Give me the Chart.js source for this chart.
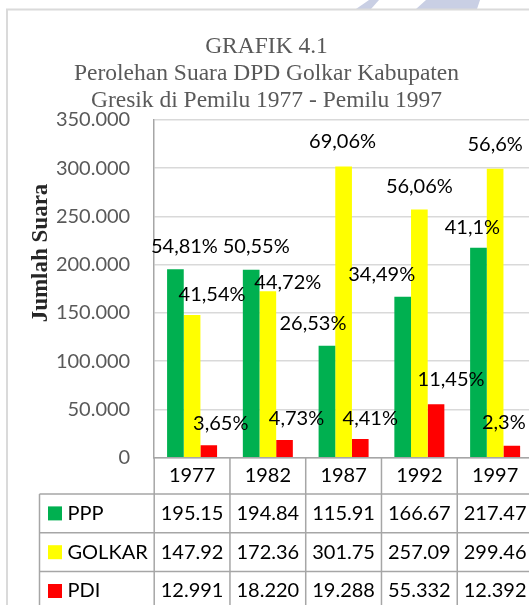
<!DOCTYPE html>
<html>
<head>
<meta charset="utf-8">
<title>Grafik 4.1</title>
<script src="https://cdn.jsdelivr.net/npm/chart.js@4/dist/chart.umd.min.js"></script>
<style>
  html, body { margin: 0; padding: 0; background: #fff; overflow: hidden; }
  #wrap { position: absolute; left: 0; top: 0; width: 539px; height: 620px; }
</style>
</head>
<body>
<div id="wrap"><canvas id="chart" width="539" height="620"></canvas></div>
<script>
// ===============================
// DATA (values in thousands of votes)
// ===============================
const years = ["1977", "1982", "1987", "1992", "1997"];
const seriesNames = ["PPP", "GOLKAR", "PDI"];
const ppp = [195.15, 194.84, 115.91, 166.67, 217.47];
const golkar = [147.92, 172.36, 301.75, 257.09, 299.46];
const pdi = [12.991, 18.220, 19.288, 55.332, 12.392];
const pppPct = ["54,81%", "50,55%", "26,53%", "34,49%", "41,1%"];
const golkarPct = ["41,54%", "44,72%", "69,06%", "56,06%", "56,6%"];
const pdiPct = ["3,65%", "4,73%", "4,41%", "11,45%", "2,3%"];
const yTicks = [0, 50, 100, 150, 200, 250, 300, 350];

// ===============================
// STYLE
// ===============================
const colors = ["#00b050", "#ffff00", "#ff0000"];
const decimals = [2, 2, 3];
const pctLabels = [pppPct, golkarPct, pdiPct];
// label offsets (px) from the top-centre of each bar, as placed in the original
const labelOffsets = [
  [[9, -23], [5, -23], [-14, -22], [-21, -22], [-6, -20]],
  [[20, -20], [20, -9], [-1, -25], [0, -23], [0, -24]],
  [[12, -22], [12, -22], [10, -21], [15, -25], [-8, -23]]
];
const sansFont = "Lato, 'Liberation Sans', sans-serif";
const lineColor = "#a6a6a6";

// ===============================
// PLUGIN: frame, y title, labels, data table
// ===============================
const extras = {
  id: "extras",
  beforeDraw(chart) {
    const ctx = chart.ctx;
    ctx.save();
    // faint shapes from the scanned page
    ctx.fillStyle = "#c9cfe4";
    ctx.beginPath();
    ctx.moveTo(369, 0); ctx.lineTo(379, 0); ctx.lineTo(371, 9); ctx.lineTo(356, 9);
    ctx.closePath(); ctx.fill();
    ctx.beginPath();
    ctx.moveTo(426, 0); ctx.lineTo(480, 0); ctx.lineTo(477, 9); ctx.lineTo(416, 9);
    ctx.closePath(); ctx.fill();
    // chart frame
    ctx.strokeStyle = "#dadada";
    ctx.lineWidth = 2;
    ctx.strokeRect(7, 9.5, 525, 640);
    ctx.restore();
  },
  afterDraw(chart) {
    const ctx = chart.ctx;
    const x = chart.scales.x;
    const area = chart.chartArea;
    ctx.save();

    // y axis title
    ctx.translate(41, 253);
    ctx.rotate(-Math.PI / 2);
    ctx.font = "bold 23px 'Liberation Serif', serif";
    ctx.fillStyle = "#262626";
    ctx.textAlign = "center";
    ctx.textBaseline = "middle";
    ctx.fillText("Jumlah Suara", 0, 0);
    ctx.setTransform(1, 0, 0, 1, 0, 0);

    // percentage labels
    ctx.font = "20px " + sansFont;
    ctx.fillStyle = "#000";
    chart.data.datasets.forEach((ds, i) => {
      chart.getDatasetMeta(i).data.forEach((bar, j) => {
        const off = labelOffsets[i][j];
        ctx.fillText(pctLabels[i][j], bar.x + off[0], bar.y + off[1]);
      });
    });

    // data table
    const top = area.bottom;
    const headH = 36.3;
    const rowH = 38.8;
    const leftX = 39.5;
    const bottom = top + headH + rowH * seriesNames.length;
    ctx.strokeStyle = lineColor;
    ctx.lineWidth = 1.5;
    ctx.beginPath();
    for (let r = 0; r <= seriesNames.length; r++) {
      const y = top + headH + r * rowH;
      ctx.moveTo(leftX, y);
      ctx.lineTo(x.right, y);
    }
    for (let j = 0; j <= years.length; j++) {
      const px = x.getPixelForValue(j - 0.5);
      ctx.moveTo(px, top);
      ctx.lineTo(px, bottom);
    }
    ctx.moveTo(leftX, top + headH);
    ctx.lineTo(leftX, bottom);
    ctx.stroke();

    ctx.fillStyle = "#000";
    years.forEach((yr, j) => {
      ctx.fillText(yr, x.getPixelForTick(j), top + headH / 2);
    });
    chart.data.datasets.forEach((ds, i) => {
      const cy = top + headH + rowH * i + rowH / 2;
      ctx.fillStyle = colors[i];
      ctx.fillRect(48, cy - 7, 14, 14);
      ctx.fillStyle = "#000";
      ctx.textAlign = "left";
      ctx.fillText(ds.label, 67.5, cy);
      ctx.textAlign = "center";
      ds.data.forEach((v, j) => {
        ctx.fillText(v.toFixed(decimals[i]), x.getPixelForTick(j), cy);
      });
    });
    ctx.restore();
  }
};

// ===============================
// CHART
// ===============================
new Chart(document.getElementById("chart"), {
  type: "bar",
  data: {
    labels: years,
    datasets: [ppp, golkar, pdi].map((values, i) => ({
      label: seriesNames[i],
      data: values,
      backgroundColor: colors[i],
      borderWidth: 0,
      categoryPercentage: 0.66,
      barPercentage: 1
    }))
  },
  options: {
    responsive: false,
    animation: false,
    events: [],
    layout: { padding: { left: 0, top: 0, right: 6, bottom: 0 } },
    plugins: {
      legend: { display: false },
      tooltip: { enabled: false },
      title: {
        display: true,
        text: ["GRAFIK 4.1", "Perolehan Suara DPD Golkar Kabupaten", "Gresik di Pemilu 1977 - Pemilu 1997"],
        color: "#595959",
        font: { family: "'Liberation Serif', serif", size: 23.5, weight: "normal", lineHeight: 1.15 },
        padding: { top: 33.5, bottom: 5.3 }
      }
    },
    scales: {
      x: {
        ticks: { display: false },
        grid: { display: false },
        border: { display: true, color: lineColor, width: 1.5 },
        afterFit(scale) { scale.height = 620 - 457.7; }
      },
      y: {
        min: 0,
        max: 350,
        afterBuildTicks(scale) { scale.ticks = yTicks.map(v => ({ value: v })); },
        ticks: {
          padding: 24,
          color: "#595959",
          font: { family: sansFont, size: 20 },
          callback: v => v === 0 ? "0" : v.toFixed(3)
        },
        grid: { color: "#d9d9d9", lineWidth: 1.5, drawTicks: false },
        border: { display: true, color: lineColor, width: 1.5 },
        afterFit(scale) { scale.width = 154.2; }
      }
    }
  },
  plugins: [extras]
});
</script>
</body>
</html>
